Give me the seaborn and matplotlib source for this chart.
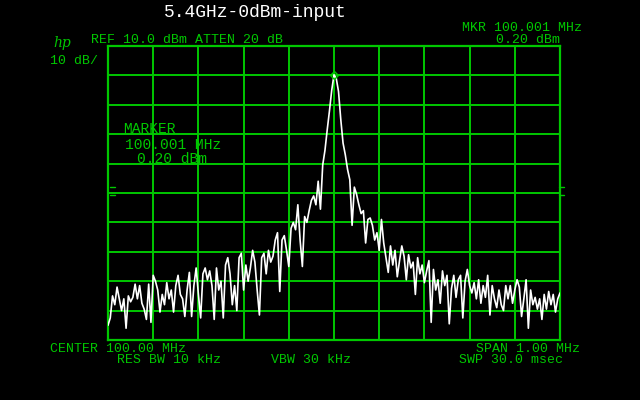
import numpy as np
import pandas as pd
import matplotlib
matplotlib.use("Agg")
import matplotlib.pyplot as plt
import seaborn as sns

# ---- data ----
center_mhz = 100.0
span_mhz = 1.0
ref_dbm = 10.0
db_per_div = 10.0
n_points = 201
level_dbm = [
    -85, -82.5, -75, -78, -72, -76, -80, -76, -86, -75,
    -77, -75.5, -71, -76, -71.5, -77.5, -79.5, -83, -71, -84,
    -68, -70, -73, -80.5, -74.5, -78, -70.5, -76, -73, -80.5,
    -71.5, -68, -74.5, -76, -82, -73, -67, -82, -71.5, -65.5,
    -74.5, -82.5, -67.5, -65.5, -69.5, -66.5, -71.5, -83, -65.5, -73,
    -70, -82.5, -64.5, -62, -67.5, -78, -71.5, -80, -62, -60.5,
    -73, -64.5, -70, -65.5, -59.5, -63.5, -73, -81.5, -62, -60.5,
    -67.5, -59.5, -63.5, -61.5, -56, -53.5, -73.5, -56, -54.5, -59.5,
    -65, -52, -50, -52.5, -44, -56, -65, -48, -50, -46,
    -42.5, -41, -44, -36, -45.5, -30.5, -25.5, -18.5, -12, -5,
    0.2, -1, -5.5, -15, -23, -27, -32, -35.5, -51, -38,
    -40.5, -44, -47, -46, -57, -49, -48.5, -51, -56, -53.5,
    -59.5, -49, -57, -62, -67, -58, -64.5, -59.5, -68.5, -63,
    -58, -61.5, -69.5, -61, -65.5, -63.5, -74.5, -62, -67.5, -64.5,
    -70.5, -66.5, -63, -84, -66, -73, -69.5, -77.5, -66.5, -71.5,
    -68, -84.5, -72.5, -68, -75.5, -69.5, -68, -82.5, -70, -66,
    -71.5, -74, -70.5, -76, -69.5, -77.5, -71.5, -75.5, -68, -81.5,
    -71.5, -76, -79, -73, -78, -80, -71.5, -76, -71.5, -77.5,
    -73, -69.5, -72, -82, -76, -69.5, -86, -73, -78, -75.5,
    -79.5, -76, -83, -74.5, -79.5, -73.5, -78, -74.5, -80.5, -76,
    -74,
]
freq_mhz = np.linspace(center_mhz - span_mhz / 2, center_mhz + span_mhz / 2, n_points)
df = pd.DataFrame({"freq": freq_mhz, "level": level_dbm})

GREEN = "#00c800"
W, H = 640, 400

sns.set_style("dark")
plt.rcParams["font.family"] = ["Liberation Mono", "DejaVu Sans Mono"]

fig = plt.figure(figsize=(6.4, 4.0), dpi=100, facecolor="black")
ax = fig.add_axes([108 / W, 60 / H, 452 / W, 294 / H], facecolor="black")

bottom = ref_dbm - 10 * db_per_div
ax.set_xlim(center_mhz - span_mhz / 2, center_mhz + span_mhz / 2)
ax.set_ylim(bottom, ref_dbm)
ax.set_xticks(np.linspace(center_mhz - span_mhz / 2, center_mhz + span_mhz / 2, 11))
ax.set_yticks(np.linspace(bottom, ref_dbm, 11))
ax.tick_params(length=0, labelbottom=False, labelleft=False)
ax.grid(True, color=GREEN, linewidth=1.4)
for s in ax.spines.values():
    s.set_color(GREEN)
    s.set_linewidth(1.6)

sns.lineplot(data=df, x="freq", y="level", ax=ax, color="white", linewidth=1.2,
             estimator=None, zorder=3)
ax.set_xlabel("")
ax.set_ylabel("")

# marker at peak
ipk = int(np.argmax(level_dbm))
ax.plot([freq_mhz[ipk]], [level_dbm[ipk]], marker="D", ms=4, mfc="none",
        mec=GREEN, mew=1, zorder=4)


def ftxt(x, y, s, color=GREEN, size=9.5, ha="left", **kw):
    fig.text(x / W, 1 - y / H, s, color=color, fontsize=size, ha=ha,
             va="baseline", **kw)


ftxt(164, 17, "5.4GHz-0dBm-input", color="white", size=13)
ftxt(582, 31, "MKR 100.001 MHz", ha="right")
ftxt(560, 43, "0.20 dBm", ha="right")
ftxt(91, 43, "REF 10.0 dBm ATTEN 20 dB")
ftxt(53, 47, "hp", size=10, style="italic", family=["DejaVu Serif"])
ftxt(50, 64, "10 dB/")
ftxt(123, 133, "MARKER", size=10.5)
ftxt(125, 149, "100.001 MHz", size=10.5)
ftxt(137, 163, "0.20 dBm", size=10.5)
ftxt(50, 352, "CENTER 100.00 MHz")
ftxt(580, 352, "SPAN 1.00 MHz", ha="right")
ftxt(117, 363, "RES BW 10 kHz")
ftxt(271, 363, "VBW 30 kHz")
ftxt(563, 363, "SWP 30.0 msec", ha="right")

# edge marks
for yy in (187, 195):
    fig.add_artist(plt.Line2D([110 / W, 115 / W], [1 - yy / H, 1 - yy / H], color=GREEN, lw=1))
    fig.add_artist(plt.Line2D([559 / W, 564 / W], [1 - yy / H, 1 - yy / H], color=GREEN, lw=1))

fig.savefig("out.png", dpi=100, facecolor="black")
